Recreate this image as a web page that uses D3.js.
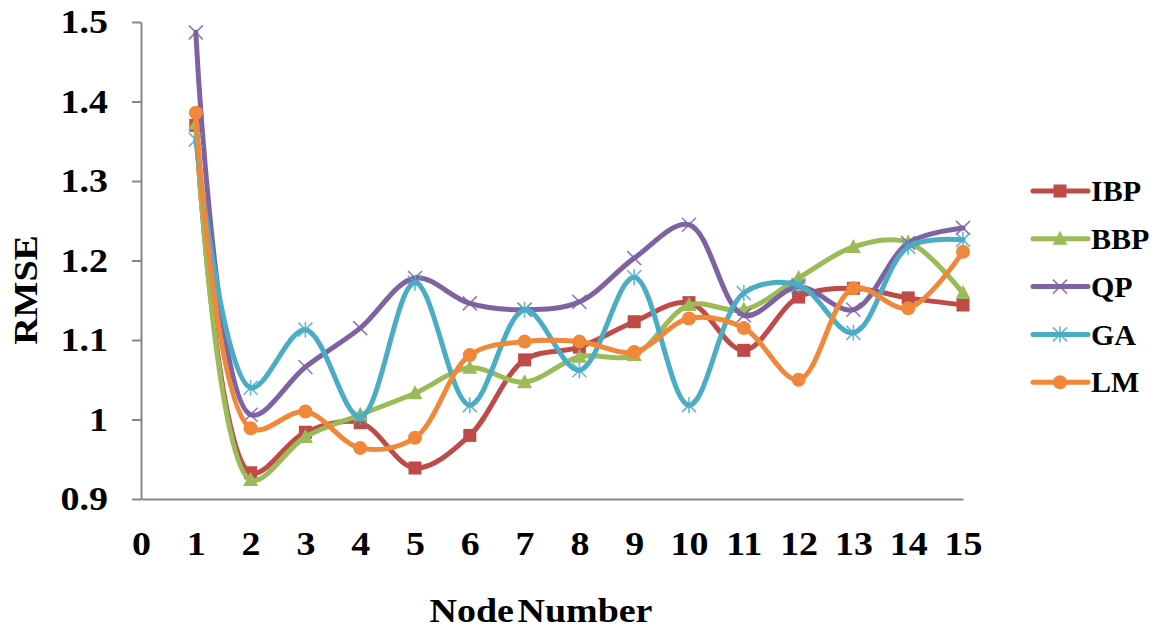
<!DOCTYPE html>
<html>
<head>
<meta charset="utf-8">
<script src="https://cdn.jsdelivr.net/npm/d3@7"></script>
<style>
  html, body { margin: 0; padding: 0; background: #fff; }
  svg { display: block; }
  text { font-family: "Liberation Serif", "Times New Roman", serif; font-weight: bold; fill: #000; }
</style>
</head>
<body>
<svg id="chart" width="1159" height="632"></svg>
<script>
// Node counts on the x axis
const nodes = [1, 2, 3, 4, 5, 6, 7, 8, 9, 10, 11, 12, 13, 14, 15];

// RMSE per training method
const ibp = [1.370, 0.933, 0.984, 0.996, 0.939, 0.980, 1.075, 1.091, 1.123, 1.147, 1.087, 1.154, 1.165, 1.153, 1.144];
const bbp = [1.372, 0.924, 0.978, 1.006, 1.033, 1.065, 1.047, 1.079, 1.081, 1.144, 1.138, 1.178, 1.217, 1.223, 1.159];
const qp  = [1.487, 1.006, 1.066, 1.115, 1.178, 1.146, 1.138, 1.148, 1.203, 1.245, 1.131, 1.167, 1.138, 1.222, 1.241];
const ga  = [1.352, 1.040, 1.113, 1.003, 1.172, 1.018, 1.138, 1.062, 1.179, 1.018, 1.159, 1.169, 1.109, 1.217, 1.226];
const lm  = [1.386, 0.989, 1.010, 0.964, 0.977, 1.081, 1.098, 1.098, 1.085, 1.127, 1.115, 1.050, 1.165, 1.140, 1.211];

const seriesNames = ["IBP", "BBP", "QP", "GA", "LM"];
const xTicks = [0, 1, 2, 3, 4, 5, 6, 7, 8, 9, 10, 11, 12, 13, 14, 15];
const yTicks = [0.9, 1.0, 1.1, 1.2, 1.3, 1.4, 1.5];
const yTickLabels = ["0.9", "1", "1.1", "1.2", "1.3", "1.4", "1.5"];

const series = [
  { name: seriesNames[0], values: ibp, color: "#BE4B48", marker: "square" },
  { name: seriesNames[1], values: bbp, color: "#9BBB59", marker: "triangle" },
  { name: seriesNames[2], values: qp,  color: "#7F62A1", marker: "times" },
  { name: seriesNames[3], values: ga,  color: "#4BACC6", marker: "star" },
  { name: seriesNames[4], values: lm,  color: "#F0883A", marker: "circle" }
];

const svg = d3.select("#chart");
const stretch = 1.15;        // axis lettering is set slightly wide
const axisColor = "#878787";
const serif = "'Liberation Serif', 'Times New Roman', serif";

const x = d3.scaleLinear().domain([0, 15]).range([141, 963]);
const y = d3.scaleLinear().domain([0.9, 1.5]).range([499, 22]);

// Y axis
const yAxis = svg.append("g")
  .attr("transform", `translate(${x(0)},0)`)
  .call(d3.axisLeft(y).tickValues(yTicks).tickSize(9).tickSizeOuter(0).tickPadding(24)
    .tickFormat((d, i) => yTickLabels[i]));
yAxis.attr("font-family", serif);
yAxis.select(".domain").attr("stroke", axisColor).attr("stroke-width", 2);
yAxis.selectAll(".tick line").attr("stroke", axisColor).attr("stroke-width", 2);
yAxis.selectAll(".tick text")
  .attr("font-family", serif).attr("font-size", 33)
  .attr("x", -33 / stretch).attr("dy", "0.33em")
  .attr("transform", `scale(${stretch},1)`);

// X axis
const xAxis = svg.append("g")
  .attr("transform", `translate(0,${y(0.9)})`)
  .call(d3.axisBottom(x).tickValues(xTicks).tickSize(0).tickSizeOuter(0).tickPadding(33)
    .tickFormat(d3.format("d")));
xAxis.attr("font-family", serif);
xAxis.select(".domain").attr("stroke", axisColor).attr("stroke-width", 2);
xAxis.selectAll(".tick text")
  .attr("font-family", serif).attr("font-size", 33)
  .attr("transform", `scale(${stretch},1)`);

// Axis titles
svg.append("text")
  .attr("transform", `translate(541,622) scale(${stretch},1)`)
  .attr("text-anchor", "middle")
  .attr("font-family", serif)
  .attr("font-size", 33)
  .attr("word-spacing", -5)
  .text("Node Number");

svg.append("text")
  .attr("transform", `translate(37,290) rotate(-90) scale(${stretch},1)`)
  .attr("text-anchor", "middle")
  .attr("font-family", serif)
  .attr("font-size", 33)
  .text("RMSE");

// Marker drawing
function drawMarker(g, type, color, cx, cy) {
  if (type === "square") {
    g.append("rect").attr("x", cx - 6.5).attr("y", cy - 6.5)
      .attr("width", 13).attr("height", 13).attr("fill", color);
  } else if (type === "triangle") {
    g.append("path")
      .attr("d", `M${cx},${cy - 8}L${cx + 7.5},${cy + 6}L${cx - 7.5},${cy + 6}Z`)
      .attr("fill", color);
  } else if (type === "circle") {
    g.append("circle").attr("cx", cx).attr("cy", cy).attr("r", 7).attr("fill", color);
  } else if (type === "times") {
    g.append("path")
      .attr("d", `M${cx - 7},${cy - 7}L${cx + 7},${cy + 7}M${cx + 7},${cy - 7}L${cx - 7},${cy + 7}`)
      .attr("fill", "none").attr("stroke", color).attr("stroke-width", 1.6).attr("opacity", 0.85);
  } else if (type === "star") {
    g.append("path")
      .attr("d", `M${cx - 7},${cy - 7}L${cx + 7},${cy + 7}M${cx + 7},${cy - 7}L${cx - 7},${cy + 7}M${cx},${cy - 8}L${cx},${cy + 8}`)
      .attr("fill", "none").attr("stroke", color).attr("stroke-width", 1.6).attr("opacity", 0.85);
  }
}

// Smoothed series lines with markers
const line = d3.line()
  .x((d, i) => x(nodes[i]))
  .y(d => y(d))
  .curve(d3.curveCatmullRom.alpha(0.5));

series.forEach(s => {
  const g = svg.append("g");
  g.append("path")
    .datum(s.values)
    .attr("d", line)
    .attr("fill", "none")
    .attr("stroke", s.color)
    .attr("stroke-width", 5)
    .attr("stroke-linejoin", "round")
    .attr("stroke-linecap", "round");
  s.values.forEach((v, i) => drawMarker(g, s.marker, s.color, x(nodes[i]), y(v)));
});

// Legend
const legend = svg.append("g");
series.forEach((s, i) => {
  const ly = 191 + i * 47.8;
  const g = legend.append("g");
  g.append("line").attr("x1", 1033).attr("x2", 1088).attr("y1", ly).attr("y2", ly)
    .attr("stroke", s.color).attr("stroke-width", 5).attr("stroke-linecap", "round");
  drawMarker(g, s.marker, s.color, 1060, ly);
  g.append("text").attr("x", 1091).attr("y", ly).attr("dy", "0.34em")
    .attr("font-family", serif)
    .attr("font-size", 30).text(s.name);
});
</script>
</body>
</html>
